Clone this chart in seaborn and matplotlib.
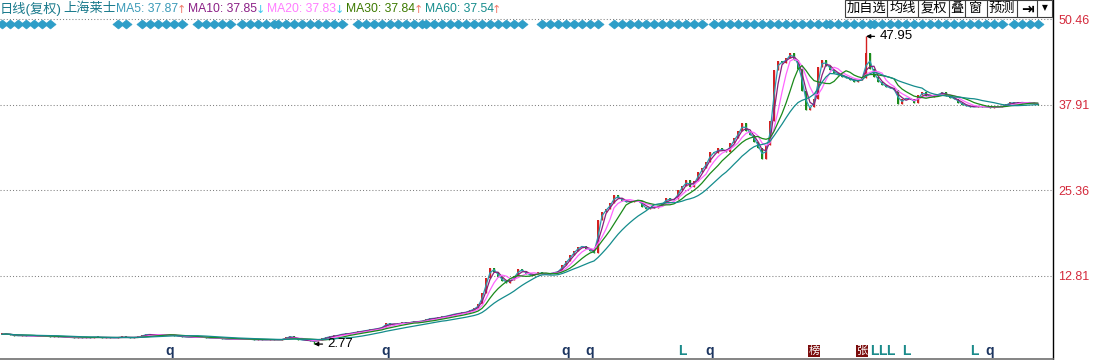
import numpy as np
import pandas as pd
import matplotlib
matplotlib.use("Agg")
import matplotlib.pyplot as plt
from matplotlib.path import Path
from matplotlib.patches import Rectangle
import seaborn as sns

# ---------------- data ----------------
closes = [
    4.2, 4.3, 4.1, 4.0, 4.0, 4.05, 3.95, 4.0, 3.95, 3.9,
    3.95, 3.9, 3.85, 3.9, 3.85, 3.8, 3.75, 3.75, 3.7, 3.75,
    3.7, 3.75, 3.7, 3.8, 3.75, 3.7, 3.75, 3.7, 3.7, 3.75,
    3.8, 3.75, 3.7, 3.75, 3.8, 4.1, 4.2, 4.15, 4.1, 4.15,
    4.1, 4.2, 4.1, 4.0, 3.9, 3.85, 3.8, 3.8, 3.75, 3.8,
    3.75, 3.7, 3.65, 3.7, 3.6, 3.55, 3.5, 3.55, 3.5, 3.5,
    3.45, 3.5, 3.45, 3.4, 3.45, 3.4, 3.4, 3.45, 3.4, 3.4,
    3.45, 3.8, 3.9, 3.6, 3.4, 3.35, 3.3, 3.25, 3.15, 3.4,
    3.6, 3.8, 3.9, 4.0, 4.1, 4.3, 4.25, 4.4, 4.5, 4.6,
    4.7, 4.8, 4.9, 5.0, 5.1, 5.3, 5.9, 5.6, 5.7, 5.8,
    5.9, 5.85, 6.0, 6.1, 6.05, 6.2, 6.4, 6.6, 6.5, 6.7,
    6.8, 6.9, 7.1, 7.2, 7.3, 7.4, 7.5, 7.8, 8.0, 8.6,
    10.3, 12.5, 14.0, 13.4, 12.6, 12.0, 11.8, 12.2, 12.8, 13.8,
    13.5, 13.0, 12.9, 13.0, 13.3, 13.1, 13.0, 13.2, 13.3, 13.5,
    14.4, 15.0, 15.8, 16.5, 17.0, 17.2, 16.8, 16.4, 16.1, 21.0,
    22.2, 22.6, 23.5, 24.6, 24.2, 23.8, 23.6, 23.7, 23.9, 23.8,
    22.9, 22.6, 22.9, 22.8, 23.0, 23.5, 24.2, 23.9, 24.0, 25.4,
    26.0, 26.8, 25.8, 26.7, 28.0, 28.6, 29.5, 31.0, 30.8, 31.5,
    31.2, 31.0, 32.3, 33.0, 34.0, 35.2, 34.0, 33.5, 32.5, 31.5,
    30.0, 32.0, 35.5, 43.0, 44.3, 44.0, 44.8, 45.5, 44.5, 43.2,
    40.0, 37.2, 37.6, 38.8, 43.4, 44.5, 43.6, 43.0, 42.6, 42.3,
    42.0, 41.8, 41.6, 41.3, 41.6, 41.8, 45.5, 43.2, 42.0, 41.3,
    40.8, 40.5, 40.3, 40.1, 38.0, 38.8, 38.9, 38.7, 38.2, 39.3,
    39.8, 39.2, 39.0, 39.3, 39.5, 39.8, 39.2, 38.9, 38.8, 38.2,
    37.9, 37.7, 37.6, 37.6, 37.7, 37.6, 37.6, 37.5, 37.6, 37.6,
    37.7, 38.0, 38.3, 38.1, 38.2, 38.3, 38.1, 38.3, 38.0, 37.9,
]
days_per_candle = 4
high_idx, high_val = 216, 47.95
low_idx, low_val = 78, 2.77

ma_periods = [5, 10, 20, 30, 60]
ma_labels = ["MA5: 37.87", "MA10: 37.85", "MA20: 37.83", "MA30: 37.84", "MA60: 37.54"]
ma_arrows = ["↑", "↓", "↓", "↑", "↑"]
ma_line_colors = ["#2a9ab0", "#8b1f7e", "#ff66ff", "#1a8a1a", "#148c8c"]
ma_text_colors = ["#3a9ab8", "#8b1f86", "#ff7dff", "#3d7a00", "#148c8c"]

yticks = [12.81, 25.36, 37.91, 50.46]

title_left = "日线(复权)"
stock_name = "上海莱士"
buttons = ["加自选", "均线", "复权", "叠", "窗", "预测", "⇥", "▼"]

signal_runs = [(0, 2), (4, 12), (29, 32), (35, 46), (49, 58), (60, 63), (64, 68),
               (69, 86), (89, 105), (106, 131), (135, 150), (153, 175), (178, 190),
               (192, 206), (207, 215), (217, 217), (218, 223), (224, 251), (253, 259)]

bottom_marks = [(42, "q"), (96, "q"), (141, "q"), (147, "q"), (177, "q"), (247, "q"),
                (170, "L"), (218, "L"), (220, "L"), (222, "L"), (226, "L"), (243, "L"),
                (203, "榜"), (215, "张")]

# ---------------- style ----------------
sns.set_theme(style="white")
plt.rcParams["font.family"] = ["Liberation Sans", "Noto Sans CJK SC", "DejaVu Sans"]

W, H = 1105, 360
fig = plt.figure(figsize=(W / 100, H / 100), dpi=100)
fig.patch.set_facecolor("white")
ax = fig.add_axes([0, 1 / H, 1053 / W, (H - 1) / H])
ax.set_facecolor("white")

n = len(closes)
idx = np.arange(n)
c = np.array(closes, dtype=float)
o = np.concatenate([[c[0]], c[:-1]])
hi = np.maximum(o, c)
lo = np.minimum(o, c)
hi[high_idx] = high_val
lo[low_idx] = low_val
up = c >= o

# candles
body_h = np.maximum(np.abs(c - o), 0.15)
colors = np.where(up, "#d42020", "#1a8c1a")
ax.vlines(idx, lo, hi, colors=colors, lw=1.0, zorder=2)
ax.bar(idx, body_h, bottom=np.minimum(o, c), width=0.5,
       color=colors, linewidth=0, zorder=3)

# moving averages via seaborn
s = pd.Series(c)
frames = []
for p in ma_periods:
    win = max(2, int(p / days_per_candle + 0.5))
    frames.append(pd.DataFrame({"idx": idx, "value": s.rolling(win, min_periods=1).mean(),
                                "MA": f"MA{p}"}))
df = pd.concat(frames, ignore_index=True)
palette = {f"MA{p}": col for p, col in zip(ma_periods, ma_line_colors)}
sns.lineplot(data=df, x="idx", y="value", hue="MA", palette=palette, legend=False,
             lw=0.9, ax=ax, sort=False, estimator=None, zorder=4)

# axes limits / grid
ax.set_xlim(-0.5, -0.5 + 1053 / 4)
ax.set_ylim(0.58, 53.29)
for v in yticks:
    ax.axhline(v, color="#808080", lw=0.75, ls=(0, (1, 2)), zorder=1)
ax.set_xlabel("")
ax.set_ylabel("")
ax.set_xticks([])
ax.yaxis.tick_right()
ax.set_yticks(yticks)
ax.set_yticklabels([f"{v:.2f}" for v in yticks])
ax.tick_params(axis="y", length=0, pad=4, labelsize=9, labelcolor="#d42a3c")
for side in ["top", "left"]:
    ax.spines[side].set_visible(False)
ax.spines["right"].set_color("black")
ax.spines["right"].set_linewidth(1.0)
ax.spines["bottom"].set_color("#707070")
ax.spines["bottom"].set_linewidth(1.2)

# signal diamonds
diamond = Path([(-1, 0), (0, 0.8), (1, 0), (0, -0.8), (-1, 0)],
               [Path.MOVETO, Path.LINETO, Path.LINETO, Path.LINETO, Path.CLOSEPOLY])
sig = [i for a, b in signal_runs for i in range(a, b + 1, 2)]
ax.plot(sig, [1 - 23.5 / 359] * len(sig), ls="none", marker=diamond, ms=8,
        color="#2e9ec8", mec="#2e9ec8", mew=0.5, transform=ax.get_xaxis_transform(),
        zorder=5, clip_on=False)

# bottom markers
for i, k in bottom_marks:
    yb = (359 - 351) / 359
    if k == "q":
        ax.text(i, yb, k, transform=ax.get_xaxis_transform(), ha="center", va="center",
                fontsize=10, fontweight="bold", color="#1c3560", zorder=6)
    elif k == "L":
        ax.text(i, yb, k, transform=ax.get_xaxis_transform(), ha="center", va="center",
                fontsize=10, fontweight="bold", color="#1a8a8a", zorder=6)
    else:
        ax.text(i, yb, k, transform=ax.get_xaxis_transform(), ha="center", va="center",
                fontsize=8, color="white", zorder=6,
                bbox=dict(boxstyle="square,pad=0.08", fc="#7b0d0d", ec="none"))

# high / low annotations
for (i, v) in [(high_idx, high_val), (low_idx, low_val)]:
    ax.annotate(f"{v:.2f}", xy=(i, v), xytext=(9.5, 0), textcoords="offset points",
                ha="left", va="center", fontsize=9.5, color="black", zorder=7,
                arrowprops=dict(arrowstyle="-|>", color="black", lw=0.9,
                                shrinkA=1, shrinkB=0, mutation_scale=6))

# ---------------- header overlay (pixel coordinates) ----------------
ov = fig.add_axes([0, 0, 1, 1], zorder=10)
ov.set_xlim(0, W)
ov.set_ylim(H, 0)
ov.axis("off")
ov.patch.set_alpha(0)

ov.text(0, 8.5, title_left, color="#1a7a8c", fontsize=9.5, va="center", ha="left")
ov.text(63, 8.5, stock_name, color="#1a7a8c", fontsize=9.5, va="center", ha="left")
fig.canvas.draw()
r = fig.canvas.get_renderer()
x0 = 116
inv = ov.transData.inverted()
for lab, arr, col in zip(ma_labels, ma_arrows, ma_text_colors):
    t = ov.text(x0, 8.5, lab, color=col, fontsize=8.7, va="center", ha="left")
    bb = t.get_window_extent(renderer=r)
    xe = inv.transform((bb.x1, bb.y0))[0]
    acol = "#f07a6a" if arr == "↑" else "#3cc8ee"
    ta = ov.text(xe - 1.5, 10, arr, color=acol, fontsize=8, va="center", ha="left",
                 family=["DejaVu Sans"])
    ba = ta.get_window_extent(renderer=r)
    x0 = inv.transform((ba.x1, ba.y0))[0] + 2

edges = [845, 887, 918, 949, 965, 987, 1017, 1037, 1052]
ov.add_patch(Rectangle((edges[0], 0), edges[-1] - edges[0], 17, fc="white",
                       ec="#404040", lw=0.8))
for e in edges[1:-1]:
    ov.plot([e, e], [0, 17], color="#404040", lw=0.8)
for a, b, lab in zip(edges[:-1], edges[1:], buttons):
    if lab == "⇥":
        ov.text((a + b) / 2, 8.5, lab, ha="center", va="center", fontsize=11,
                fontweight="bold", color="black", family=["DejaVu Sans"])
    elif lab == "▼":
        ov.text((a + b) / 2, 8, lab, ha="center", va="center", fontsize=5.5,
                color="black", family=["DejaVu Sans"])
    else:
        ov.text((a + b) / 2, 8.5, lab, ha="center", va="center", fontsize=9.5,
                color="black")

fig.savefig("out.png", dpi=100, facecolor="white")
